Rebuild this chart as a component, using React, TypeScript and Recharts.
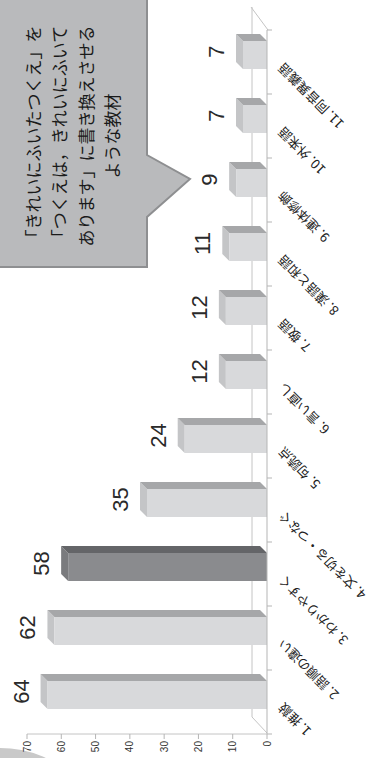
import React from "react";
import { BarChart, Bar, XAxis, YAxis, LabelList } from "recharts";

// 指導された教材の種類（件数）
const categories = [
  "1. 推敲",
  "2. 語順の違い",
  "3. わかりやすく",
  "4. 文を切る・つなぐ",
  "5. 句読点",
  "6. 言い直し",
  "7. 敬語",
  "8. 漢語と和語",
  "9. 連体修飾",
  "10. 外来語",
  "11. 同音異義語",
];
const counts = [64, 62, 58, 35, 24, 12, 12, 11, 9, 7, 7];
const highlighted = "3. わかりやすく";
const valueTicks = [0, 10, 20, 30, 40, 50, 60, 70];
const calloutLines = [
  "「きれいにふいたつくえ」を",
  "「つくえは，きれいにふいて",
  "あります」に書き換えさせる",
  "ような教材",
];

const data = categories.map((name, i) => ({ name, count: counts[i] }));

// chart is laid out landscape, then turned a quarter to the left
const W = 758;
const H = 386;
const margin = { top: 27, right: 30, bottom: 0, left: 0 };
const yAxisW = 24;
const band = (W - margin.left - margin.right - yAxisW) / categories.length;
const DEPTH = 7;
const SHIFT = 7;
const JP = "'Noto Sans CJK JP', 'Noto Sans', sans-serif";
const LATIN = "'Liberation Sans', Arial, sans-serif";

function Bar3D(props: any) {
  const { x, y, width, height, payload } = props;
  if (height <= 0) return null;
  const dark = payload.name === highlighted;
  const x0 = x + SHIFT;
  const d = DEPTH;
  const front = dark ? "#8a8b8e" : "#d8d9db";
  const side = dark ? "#646568" : "#a6a7a9";
  const top = dark ? "#7a7b7e" : "#c4c5c7";
  return (
    <g>
      <polygon
        points={`${x0},${y} ${x0 + d},${y - d} ${x0 + width + d},${y - d} ${x0 + width},${y}`}
        fill={top}
      />
      <polygon
        points={`${x0 + width},${y} ${x0 + width + d},${y - d} ${x0 + width + d},${y + height - d} ${x0 + width},${y + height}`}
        fill={side}
      />
      <rect x={x0} y={y} width={width} height={height} fill={front} />
    </g>
  );
}

function ValueLabel(props: any) {
  const { x, y, width, value } = props;
  return (
    <text
      x={x + width / 2 + SHIFT + DEPTH / 2}
      y={y - 19}
      textAnchor="middle"
      fontSize={22}
      fontFamily={LATIN}
      fill="#2a2a2a"
    >
      {value}
    </text>
  );
}

// category names drawn under each bar's base, slanted 45°
function NameLabel(props: any) {
  const { x, y, width, height, value, index } = props;
  const cx = x + width / 2;
  const base = y + height;
  const ty = base + 17;
  return (
    <g>
      <line x1={cx - band / 2} y1={base} x2={cx - band / 2} y2={base + 5} stroke="#b5b5b5" />
      {index === categories.length - 1 && (
        <line x1={cx + band / 2} y1={base} x2={cx + band / 2} y2={base + 5} stroke="#b5b5b5" />
      )}
      <text
        x={cx}
        y={ty}
        transform={`rotate(-45 ${cx} ${ty})`}
        textAnchor="end"
        fontSize={13}
        fontFamily={JP}
        fill="#222"
      >
        {value}
      </text>
    </g>
  );
}

export default function App() {
  return (
    <div style={{ position: "absolute", left: 0, top: 0, width: 386, height: 758, overflow: "hidden", background: "#fff" }}>
      <div
        style={{
          position: "absolute",
          left: 0,
          top: 0,
          width: W,
          height: H,
          transform: `translate(0px, ${W}px) rotate(-90deg)`,
          transformOrigin: "0 0",
        }}
      >
        {/* floor of the 3D plot, behind the bars */}
        <svg width={W} height={H} style={{ position: "absolute", left: 0, top: 0 }}>
          <circle cx={-100} cy={0} r={110} fill="#c9c9c9" />
          <line x1={25} y1={267} x2={41} y2={252} stroke="#c4c4c4" />
          <line x1={41} y1={252} x2={751} y2={252} stroke="#c4c4c4" />
          <line x1={728} y1={268} x2={751} y2={251} stroke="#c4c4c4" />
        </svg>
        <BarChart width={W} height={H} data={data} margin={margin} barSize={28}>
          <XAxis
            dataKey="name"
            height={119}
            tick={false}
            tickLine={false}
            axisLine={{ stroke: "#b5b5b5" }}
          />
          <YAxis
            width={yAxisW}
            domain={[0, 70]}
            ticks={valueTicks}
            tickSize={5}
            axisLine={{ stroke: "#c4c4c4" }}
            tickLine={{ stroke: "#b5b5b5" }}
            tick={{ fontSize: 10, fill: "#333", fontFamily: LATIN }}
          />
          <Bar dataKey="count" shape={<Bar3D />} isAnimationActive={false}>
            <LabelList dataKey="count" content={<ValueLabel />} />
            <LabelList dataKey="name" content={<NameLabel />} />
          </Bar>
        </BarChart>
        {/* callout */}
        <svg width={W} height={H} style={{ position: "absolute", left: 0, top: 0, pointerEvents: "none" }}>
          <path
            d="M491,-2 L491,147 L541,147 L579,190 L603,147 L760,147 L760,-2 Z"
            fill="#b9babc"
            stroke="#8e8f91"
            strokeWidth={2}
          />
          {calloutLines.map((line, i) => (
            <text
              key={line}
              x={622}
              y={40 + i * 26.3}
              textAnchor="middle"
              fontSize={17}
              fontFamily={JP}
              fill="#1a1a1a"
            >
              {line}
            </text>
          ))}
        </svg>
      </div>
    </div>
  );
}
